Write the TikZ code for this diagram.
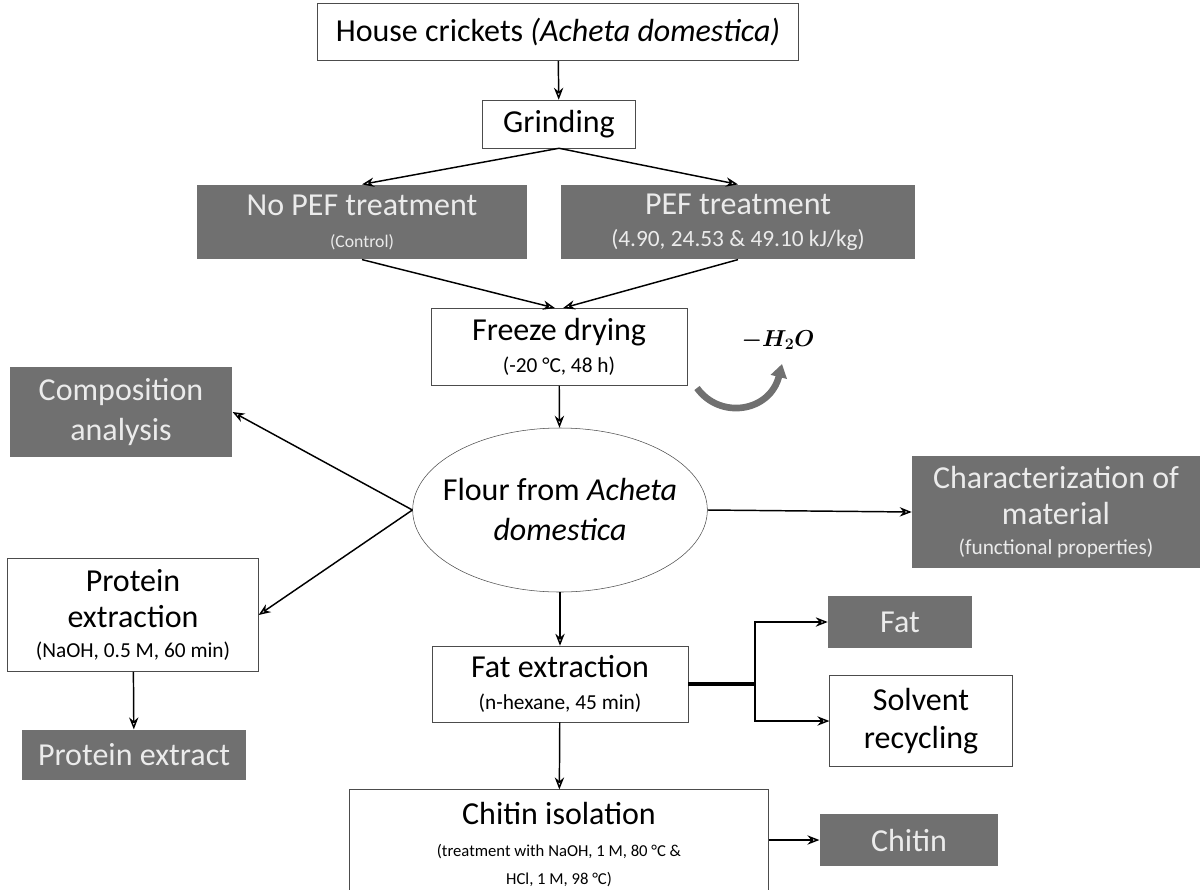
\documentclass[tikz,border=0pt]{standalone}
\usepackage{fontspec}
\usepackage{amsmath,bm}
\setmainfont{Carlito}
\usetikzlibrary{shapes.geometric,arrows.meta}
\definecolor{boxgray}{RGB}{112,112,112}
\newcommand{\subtxt}{\fontsize{16}{17}\selectfont}
\newcommand{\subsmall}{\fontsize{12.5}{14}\selectfont}
\tikzset{
  whitebox/.style={draw=black!70, fill=white, align=center, inner sep=2pt},
  graybox/.style={fill=boxgray, text=white!92!black, align=center, inner sep=2pt},
  flow/.style={-{Stealth[length=9pt,width=7pt,open]}, line width=1.1pt}
}
\begin{document}
\begin{tikzpicture}[x=0.75pt,y=0.75pt,yscale=-1,xscale=1,font=\fontsize{24}{27}\selectfont]
\useasboundingbox (0,0) rectangle (1203,889);

%Shape: Rectangle
\node [whitebox, minimum width=361pt, minimum height=43pt] (house) at (558,32) {House crickets \textit{(Acheta domestica)}};
%Shape: Rectangle
\node [whitebox, minimum width=115pt, minimum height=36pt] (grind) at (559,124) {Grinding};
%Shape: Rectangle
\node [graybox, minimum width=247pt, minimum height=56pt] (nopef) at (362,222) {No PEF treatment\\[-3pt]{\fontsize{13.3}{15}\selectfont (Control)}};
%Shape: Rectangle
\node [graybox, minimum width=265pt, minimum height=56pt] (pef) at (738,222) {PEF treatment\\[-3pt]{\fontsize{17.5}{18}\selectfont (4.90, 24.53 \& 49.10 kJ/kg)}};
%Shape: Rectangle
\node [whitebox, minimum width=192pt, minimum height=58pt] (freeze) at (559,347) {Freeze drying\\[-3pt]{\subtxt (-20 °C, 48 h)}};
% Text Node
\node [font=\fontsize{17.5}{20}\selectfont] (water) at (778,340) {$\bm{-H_2O}$};
\coordinate (wstart) at (697,388);
\coordinate (wend) at (782,364);
%Shape: Rectangle
\node [graybox, minimum width=167pt, minimum height=68pt] (comp) at (121,412) {Composition\\[3pt]analysis};
%Shape: Ellipse
\node [ellipse, draw=black!70, inner xsep=-10pt, minimum width=221pt, minimum height=123pt, align=center] (flour) at (560,510) {Flour from \textit{Acheta}\\[3pt]\textit{domestica}};
%Shape: Rectangle
\node [graybox, minimum width=216pt, minimum height=84pt] (charac) at (1056,512) {Characterization of\\material\\[-4pt]{\subtxt (functional properties)}};
%Shape: Rectangle
\node [whitebox, minimum width=188pt, minimum height=85pt] (protx) at (133,615) {Protein\\[0pt]extraction\\[-4pt]{\subtxt (NaOH, 0.5 M, 60 min)}};
%Shape: Rectangle
\node [graybox, minimum width=168pt, minimum height=38pt] (prot) at (134,755) {Protein extract};
%Shape: Rectangle
\node [graybox, minimum width=108pt, minimum height=39pt] (fat) at (900,622) {Fat};
%Shape: Rectangle
\node [whitebox, minimum width=192pt, minimum height=57pt] (fatx) at (560,684) {Fat extraction\\[-3pt]{\subtxt (n-hexane, 45 min)}};
%Shape: Rectangle
\node [whitebox, minimum width=137pt, minimum height=68pt] (solv) at (921,721) {Solvent\\[1pt]recycling};
%Shape: Rectangle
\node [whitebox, minimum width=314pt, minimum height=83pt] (chitx) at (559,845) {Chitin isolation\\[-3pt]{\subsmall (treatment with NaOH, 1 M, 80 °C \&}\\[-6pt]{\subsmall HCl, 1 M, 98 °C)}};
%Shape: Rectangle
\node [graybox, minimum width=134pt, minimum height=39pt] (chit) at (909,840) {Chitin};
\coordinate (split) at (755,684);

% Connectors
\draw [flow] (house) -- (grind);
\draw [flow] (grind.south) -- (nopef.north);
\draw [flow] (grind.south) -- (pef.north);
\draw [flow] (nopef.south) -- ([xshift=-3pt]freeze.north);
\draw [flow] (pef.south) -- ([xshift=3pt]freeze.north);
\draw [flow] (freeze) -- (flour);
\draw [line width=5pt, boxgray, -{Triangle[length=10pt,width=12pt]}] (wstart) .. controls (720,420) and (770,412) .. (wend);
\draw [flow] (flour.west) -- (comp.east);
\draw [flow] (flour.west) -- (protx.east);
\draw [flow] (flour.east) -- (charac.west);
\draw [flow] (protx) -- (prot);
\draw [flow] (flour) -- (fatx);
\draw [line width=3pt] (fatx.east |- split) -- (split);
\draw [flow] (split) |- (fat.west);
\draw [flow] (split) |- (solv.west);
\draw [flow] (fatx) -- (chitx);
\draw [flow] (chitx.east |- chit) -- (chit.west);

\end{tikzpicture}
\end{document}
